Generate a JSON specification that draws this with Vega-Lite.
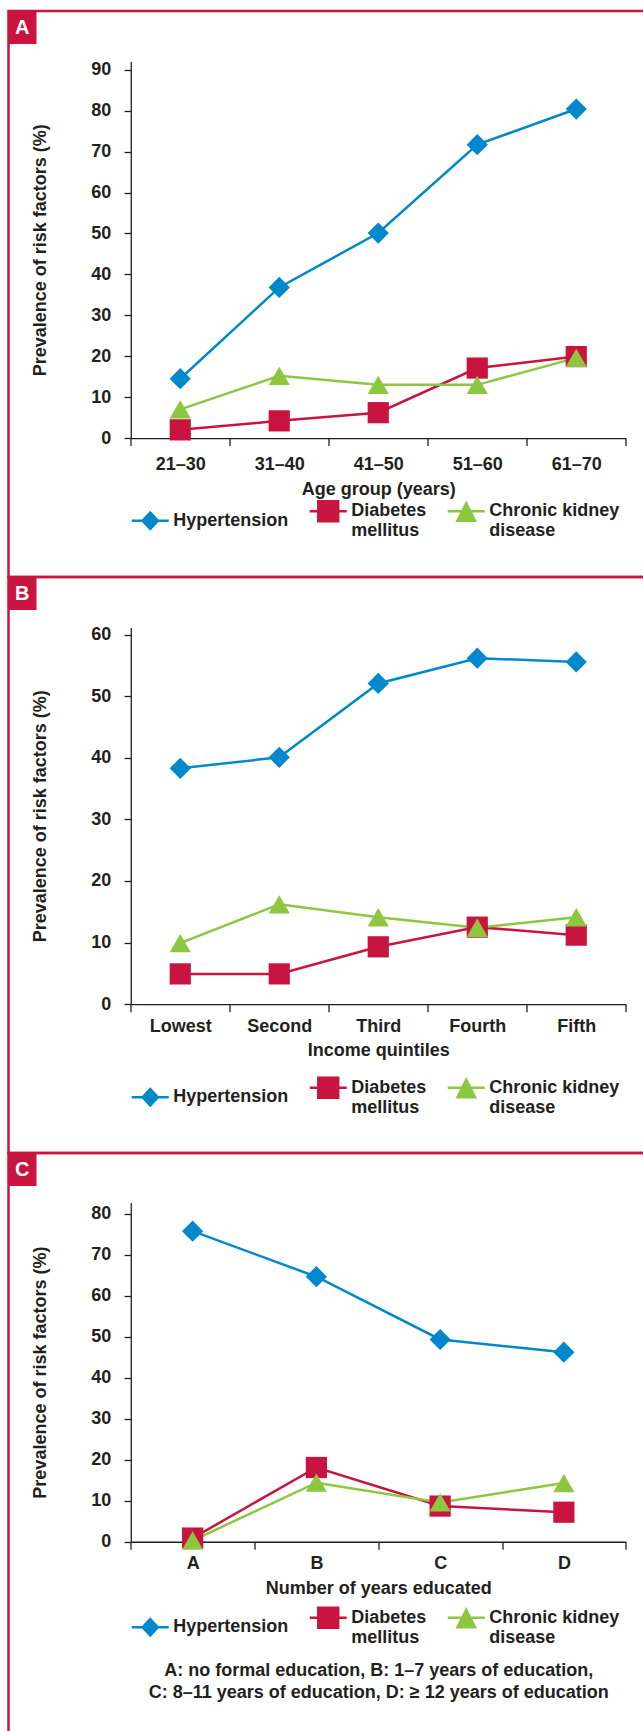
{
  "$schema": "https://vega.github.io/schema/vega-lite/v6.json",
  "background": "white",
  "padding": {"left": 6.5, "top": 9, "right": 0, "bottom": 0},
  "spacing": 0,
  "bounds": "flush",
  "resolve": {
    "scale": {"color": "independent", "stroke": "independent", "shape": "independent", "opacity": "independent"},
    "legend": {"color": "independent", "stroke": "independent", "shape": "independent", "opacity": "independent"}
  },
  "config": {
    "font": "Liberation Sans",
    "view": {"stroke": "#C8143F", "strokeWidth": 2.5},
    "axis": {
      "grid": false,
      "domainColor": "#231F20",
      "domainWidth": 1.3,
      "tickColor": "#231F20",
      "tickWidth": 1.3,
      "labelFont": "Liberation Sans",
      "labelFontWeight": "bold",
      "labelFontSize": 18,
      "labelColor": "#231F20",
      "titleFont": "Liberation Sans",
      "titleFontWeight": "bold",
      "titleFontSize": 18,
      "titleColor": "#231F20"
    },
    "legend": {
      "labelFont": "Liberation Sans",
      "labelFontWeight": "bold",
      "labelFontSize": 18,
      "labelColor": "#231F20",
      "titleFont": "Liberation Sans",
      "titleFontSize": 20,
      "titleFontWeight": "bold"
    }
  },
  "datasets": {
    "a": [
      {"group": "21–30", "series": "Hypertension", "value": 14.5},
      {"group": "31–40", "series": "Hypertension", "value": 36.8},
      {"group": "41–50", "series": "Hypertension", "value": 50.1},
      {"group": "51–60", "series": "Hypertension", "value": 71.7},
      {"group": "61–70", "series": "Hypertension", "value": 80.4},
      {"group": "21–30", "series": "Diabetes mellitus", "value": 2.0},
      {"group": "31–40", "series": "Diabetes mellitus", "value": 4.2},
      {"group": "41–50", "series": "Diabetes mellitus", "value": 6.2},
      {"group": "51–60", "series": "Diabetes mellitus", "value": 17.1},
      {"group": "61–70", "series": "Diabetes mellitus", "value": 19.9},
      {"group": "21–30", "series": "Chronic kidney disease", "value": 7.0},
      {"group": "31–40", "series": "Chronic kidney disease", "value": 15.2},
      {"group": "41–50", "series": "Chronic kidney disease", "value": 13.0},
      {"group": "51–60", "series": "Chronic kidney disease", "value": 13.0},
      {"group": "61–70", "series": "Chronic kidney disease", "value": 19.6}
    ],
    "b": [
      {"group": "Lowest", "series": "Hypertension", "value": 38.3},
      {"group": "Second", "series": "Hypertension", "value": 40.1},
      {"group": "Third", "series": "Hypertension", "value": 52.1},
      {"group": "Fourth", "series": "Hypertension", "value": 56.2},
      {"group": "Fifth", "series": "Hypertension", "value": 55.6},
      {"group": "Lowest", "series": "Diabetes mellitus", "value": 4.9},
      {"group": "Second", "series": "Diabetes mellitus", "value": 4.9},
      {"group": "Third", "series": "Diabetes mellitus", "value": 9.3},
      {"group": "Fourth", "series": "Diabetes mellitus", "value": 12.5},
      {"group": "Fifth", "series": "Diabetes mellitus", "value": 11.2},
      {"group": "Lowest", "series": "Chronic kidney disease", "value": 9.9},
      {"group": "Second", "series": "Chronic kidney disease", "value": 16.2},
      {"group": "Third", "series": "Chronic kidney disease", "value": 14.1},
      {"group": "Fourth", "series": "Chronic kidney disease", "value": 12.4},
      {"group": "Fifth", "series": "Chronic kidney disease", "value": 14.1}
    ],
    "c": [
      {"group": "A", "series": "Hypertension", "value": 75.7},
      {"group": "B", "series": "Hypertension", "value": 64.6},
      {"group": "C", "series": "Hypertension", "value": 49.3},
      {"group": "D", "series": "Hypertension", "value": 46.2},
      {"group": "A", "series": "Diabetes mellitus", "value": 0.9},
      {"group": "B", "series": "Diabetes mellitus", "value": 18.1},
      {"group": "C", "series": "Diabetes mellitus", "value": 8.7},
      {"group": "D", "series": "Diabetes mellitus", "value": 7.2},
      {"group": "A", "series": "Chronic kidney disease", "value": 0.3},
      {"group": "B", "series": "Chronic kidney disease", "value": 14.4},
      {"group": "C", "series": "Chronic kidney disease", "value": 9.6},
      {"group": "D", "series": "Chronic kidney disease", "value": 14.3}
    ]
  },
  "vconcat": [
    {
      "width": 638,
      "height": 566,
      "data": {"name": "a"},
      "resolve": {"scale": {"color": "independent", "shape": "independent"}, "legend": {"color": "independent", "shape": "independent"}},
      "encoding": {
        "x": {"field": "group", "type": "ordinal", "sort": null,
          "scale": {"type": "band", "range": [122.25, 617.25], "paddingInner": 0, "paddingOuter": 0},
          "axis": {"title": "Age group (years)", "labelAngle": 0, "offset": -138.95, "tickSize": 7.5, "tickBand": "extent", "labelPadding": 9.5, "titlePadding": 7}},
        "y": {"field": "value", "type": "quantitative",
          "scale": {"domain": [0, 92], "range": [427.05, 50.55], "nice": false, "zero": true},
          "axis": {"title": "Prevalence of risk factors (%)", "values": [0, 10, 20, 30, 40, 50, 60, 70, 80, 90], "offset": -122.25, "tickSize": 6.7, "labelPadding": 13.3, "titlePadding": 41}}
      },
      "layer": [
        {
          "mark": {"type": "line", "strokeWidth": 2.5},
          "encoding": {
            "stroke": {"field": "series", "type": "nominal", "scale": {"domain": ["Hypertension", "Diabetes mellitus", "Chronic kidney disease"], "range": ["#0088CC", "#C8143F", "#8DC63F"]}, "legend": null},
            "opacity": {"datum": "A", "type": "ordinal", "scale": {"range": [1, 1]},
              "legend": {"title": "A", "values": [], "orient": "top-left", "offset": 0, "padding": 6.5, "fillColor": "#C8143F", "titleColor": "white", "titleFontSize": 20, "titleFontWeight": "bold", "titlePadding": 0, "cornerRadius": 0}}
          }
        },
        {
          "mark": {"type": "point", "filled": true, "opacity": 1, "strokeWidth": 0, "size": 450},
          "encoding": {
            "color": {"field": "series", "type": "nominal", "scale": {"domain": ["Hypertension", "Diabetes mellitus", "Chronic kidney disease"], "range": ["#0088CC", "#C8143F", "#8DC63F"]}, "legend": null},
            "shape": {"field": "series", "type": "nominal", "scale": {"domain": ["Hypertension", "Diabetes mellitus", "Chronic kidney disease"], "range": ["diamond", "square", "triangle-up"]}, "legend": null}
          }
        },
        {
          "transform": [{"filter": "false"}],
          "mark": {"type": "point", "filled": true, "opacity": 1, "strokeWidth": 0, "size": 1369},
          "encoding": {
            "color": {"field": "series", "type": "nominal", "scale": {"domain": ["Hypertension", "Diabetes mellitus", "Chronic kidney disease"], "range": ["#0088CC", "#C8143F", "#8DC63F"]},
              "legend": {"orient": "none", "legendX": 123.25, "legendY": 481.5, "direction": "horizontal", "columns": 3, "title": null, "padding": 0, "columnPadding": 21, "labelOffset": 4.5, "labelLimit": 300, "symbolSize": 1369, "symbolStrokeWidth": 0, "symbolOpacity": 1,
                "labelExpr": "datum.label == 'Diabetes mellitus' ? ['Diabetes', 'mellitus'] : datum.label == 'Chronic kidney disease' ? ['Chronic kidney', 'disease'] : datum.label"}},
            "shape": {"field": "series", "type": "nominal", "scale": {"domain": ["Hypertension", "Diabetes mellitus", "Chronic kidney disease"], "range": ["M-1,-0.07H1V0.07H-1ZM0,-0.54L0.505,0L0,0.54L-0.505,0Z", "M-1,-0.07H1V0.07H-1ZM-0.605,-0.605H0.605V0.605H-0.605Z", "M-1,-0.07H1V0.07H-1ZM0,-0.586L0.584,0.586H-0.584Z"]},
              "legend": {"orient": "none", "legendX": 123.25, "legendY": 481.5, "direction": "horizontal", "columns": 3, "title": null, "padding": 0, "columnPadding": 21, "labelOffset": 4.5, "labelLimit": 300, "symbolSize": 1369, "symbolStrokeWidth": 0, "symbolOpacity": 1,
                "labelExpr": "datum.label == 'Diabetes mellitus' ? ['Diabetes', 'mellitus'] : datum.label == 'Chronic kidney disease' ? ['Chronic kidney', 'disease'] : datum.label"}}
          }
        }
      ]
    },
    {
      "width": 638,
      "height": 576,
      "data": {"name": "b"},
      "resolve": {"scale": {"color": "independent", "shape": "independent"}, "legend": {"color": "independent", "shape": "independent"}},
      "encoding": {
        "x": {"field": "group", "type": "ordinal", "sort": null,
          "scale": {"type": "band", "range": [122.25, 617.25], "paddingInner": 0, "paddingOuter": 0},
          "axis": {"title": "Income quintiles", "labelAngle": 0, "offset": -148.95, "tickSize": 7.7, "tickBand": "extent", "labelPadding": 5.8, "titlePadding": 6}},
        "y": {"field": "value", "type": "quantitative",
          "scale": {"domain": [0, 61.2], "range": [427.05, 50.45], "nice": false, "zero": true},
          "axis": {"title": "Prevalence of risk factors (%)", "values": [0, 10, 20, 30, 40, 50, 60], "offset": -122.25, "tickSize": 6.7, "labelPadding": 13.3, "titlePadding": 41}}
      },
      "layer": [
        {
          "mark": {"type": "line", "strokeWidth": 2.5},
          "encoding": {
            "stroke": {"field": "series", "type": "nominal", "scale": {"domain": ["Hypertension", "Diabetes mellitus", "Chronic kidney disease"], "range": ["#0088CC", "#C8143F", "#8DC63F"]}, "legend": null},
            "opacity": {"datum": "B", "type": "ordinal", "scale": {"range": [1, 1]},
              "legend": {"title": "B", "values": [], "orient": "top-left", "offset": 0, "padding": 6.5, "fillColor": "#C8143F", "titleColor": "white", "titleFontSize": 20, "titleFontWeight": "bold", "titlePadding": 0, "cornerRadius": 0}}
          }
        },
        {
          "mark": {"type": "point", "filled": true, "opacity": 1, "strokeWidth": 0, "size": 450},
          "encoding": {
            "color": {"field": "series", "type": "nominal", "scale": {"domain": ["Hypertension", "Diabetes mellitus", "Chronic kidney disease"], "range": ["#0088CC", "#C8143F", "#8DC63F"]}, "legend": null},
            "shape": {"field": "series", "type": "nominal", "scale": {"domain": ["Hypertension", "Diabetes mellitus", "Chronic kidney disease"], "range": ["diamond", "square", "triangle-up"]}, "legend": null}
          }
        },
        {
          "transform": [{"filter": "false"}],
          "mark": {"type": "point", "filled": true, "opacity": 1, "strokeWidth": 0, "size": 1369},
          "encoding": {
            "color": {"field": "series", "type": "nominal", "scale": {"domain": ["Hypertension", "Diabetes mellitus", "Chronic kidney disease"], "range": ["#0088CC", "#C8143F", "#8DC63F"]},
              "legend": {"orient": "none", "legendX": 123.25, "legendY": 492, "direction": "horizontal", "columns": 3, "title": null, "padding": 0, "columnPadding": 21, "labelOffset": 4.5, "labelLimit": 300, "symbolSize": 1369, "symbolStrokeWidth": 0, "symbolOpacity": 1,
                "labelExpr": "datum.label == 'Diabetes mellitus' ? ['Diabetes', 'mellitus'] : datum.label == 'Chronic kidney disease' ? ['Chronic kidney', 'disease'] : datum.label"}},
            "shape": {"field": "series", "type": "nominal", "scale": {"domain": ["Hypertension", "Diabetes mellitus", "Chronic kidney disease"], "range": ["M-1,-0.07H1V0.07H-1ZM0,-0.54L0.505,0L0,0.54L-0.505,0Z", "M-1,-0.07H1V0.07H-1ZM-0.605,-0.605H0.605V0.605H-0.605Z", "M-1,-0.07H1V0.07H-1ZM0,-0.586L0.584,0.586H-0.584Z"]},
              "legend": {"orient": "none", "legendX": 123.25, "legendY": 492, "direction": "horizontal", "columns": 3, "title": null, "padding": 0, "columnPadding": 21, "labelOffset": 4.5, "labelLimit": 300, "symbolSize": 1369, "symbolStrokeWidth": 0, "symbolOpacity": 1,
                "labelExpr": "datum.label == 'Diabetes mellitus' ? ['Diabetes', 'mellitus'] : datum.label == 'Chronic kidney disease' ? ['Chronic kidney', 'disease'] : datum.label"}}
          }
        }
      ]
    },
    {
      "width": 638,
      "height": 582,
      "data": {"name": "c"},
      "resolve": {"scale": {"color": "independent", "shape": "independent"}, "legend": {"color": "independent", "shape": "independent"}},
      "title": {"text": ["A: no formal education, B: 1–7 years of education,", "C: 8–11 years of education, D: ≥ 12 years of education"], "orient": "bottom", "anchor": "middle", "frame": "group", "offset": -73, "dx": 51.25, "font": "Liberation Sans", "fontSize": 18, "fontWeight": "bold", "color": "#231F20", "lineHeight": 22},
      "encoding": {
        "x": {"field": "group", "type": "ordinal", "sort": null,
          "scale": {"type": "band", "range": [122.25, 617.25], "paddingInner": 0, "paddingOuter": 0},
          "axis": {"title": "Number of years educated", "labelAngle": 0, "offset": -193.25, "tickSize": 7.5, "tickBand": "extent", "labelPadding": 5.6, "titlePadding": 6.4}},
        "y": {"field": "value", "type": "quantitative",
          "scale": {"domain": [0, 82.7], "range": [388.75, 49.45], "nice": false, "zero": true},
          "axis": {"title": "Prevalence of risk factors (%)", "values": [0, 10, 20, 30, 40, 50, 60, 70, 80], "offset": -122.25, "tickSize": 6.7, "labelPadding": 13.3, "titlePadding": 41}}
      },
      "layer": [
        {
          "mark": {"type": "line", "strokeWidth": 2.5},
          "encoding": {
            "stroke": {"field": "series", "type": "nominal", "scale": {"domain": ["Hypertension", "Diabetes mellitus", "Chronic kidney disease"], "range": ["#0088CC", "#C8143F", "#8DC63F"]}, "legend": null},
            "opacity": {"datum": "C", "type": "ordinal", "scale": {"range": [1, 1]},
              "legend": {"title": "C", "values": [], "orient": "top-left", "offset": 0, "padding": 6.5, "fillColor": "#C8143F", "titleColor": "white", "titleFontSize": 20, "titleFontWeight": "bold", "titlePadding": 0, "cornerRadius": 0}}
          }
        },
        {
          "mark": {"type": "point", "filled": true, "opacity": 1, "strokeWidth": 0, "size": 450},
          "encoding": {
            "color": {"field": "series", "type": "nominal", "scale": {"domain": ["Hypertension", "Diabetes mellitus", "Chronic kidney disease"], "range": ["#0088CC", "#C8143F", "#8DC63F"]}, "legend": null},
            "shape": {"field": "series", "type": "nominal", "scale": {"domain": ["Hypertension", "Diabetes mellitus", "Chronic kidney disease"], "range": ["diamond", "square", "triangle-up"]}, "legend": null}
          }
        },
        {
          "transform": [{"filter": "false"}],
          "mark": {"type": "point", "filled": true, "opacity": 1, "strokeWidth": 0, "size": 1369},
          "encoding": {
            "color": {"field": "series", "type": "nominal", "scale": {"domain": ["Hypertension", "Diabetes mellitus", "Chronic kidney disease"], "range": ["#0088CC", "#C8143F", "#8DC63F"]},
              "legend": {"orient": "none", "legendX": 123.25, "legendY": 446, "direction": "horizontal", "columns": 3, "title": null, "padding": 0, "columnPadding": 21, "labelOffset": 4.5, "labelLimit": 300, "symbolSize": 1369, "symbolStrokeWidth": 0, "symbolOpacity": 1,
                "labelExpr": "datum.label == 'Diabetes mellitus' ? ['Diabetes', 'mellitus'] : datum.label == 'Chronic kidney disease' ? ['Chronic kidney', 'disease'] : datum.label"}},
            "shape": {"field": "series", "type": "nominal", "scale": {"domain": ["Hypertension", "Diabetes mellitus", "Chronic kidney disease"], "range": ["M-1,-0.07H1V0.07H-1ZM0,-0.54L0.505,0L0,0.54L-0.505,0Z", "M-1,-0.07H1V0.07H-1ZM-0.605,-0.605H0.605V0.605H-0.605Z", "M-1,-0.07H1V0.07H-1ZM0,-0.586L0.584,0.586H-0.584Z"]},
              "legend": {"orient": "none", "legendX": 123.25, "legendY": 446, "direction": "horizontal", "columns": 3, "title": null, "padding": 0, "columnPadding": 21, "labelOffset": 4.5, "labelLimit": 300, "symbolSize": 1369, "symbolStrokeWidth": 0, "symbolOpacity": 1,
                "labelExpr": "datum.label == 'Diabetes mellitus' ? ['Diabetes', 'mellitus'] : datum.label == 'Chronic kidney disease' ? ['Chronic kidney', 'disease'] : datum.label"}}
          }
        }
      ]
    }
  ]
}
